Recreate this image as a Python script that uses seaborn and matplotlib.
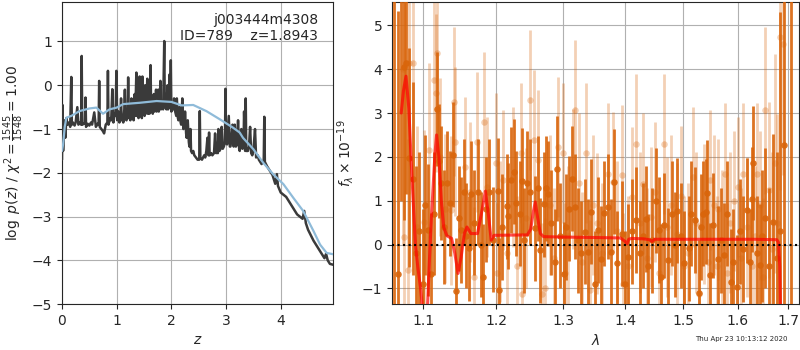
import numpy as np
import seaborn as sns
import matplotlib
matplotlib.use('Agg')
import matplotlib.pyplot as plt
from matplotlib.ticker import FixedLocator, NullLocator, FormatStrFormatter

# p(z) curve (dark) and smooth curve (blue)
z_fit = [0.00, 0.01, 0.02, 0.04, 0.06, 0.08, 0.10, 0.13, 0.15, 0.17,
         0.18, 0.20, 0.23, 0.25, 0.28, 0.30, 0.33, 0.35, 0.36, 0.37,
         0.40, 0.42, 0.43, 0.44, 0.47, 0.50, 0.53, 0.55, 0.59, 0.62,
         0.65, 0.67, 0.68, 0.69, 0.72, 0.75, 0.77, 0.80, 0.83, 0.84,
         0.85, 0.88, 0.90, 0.92, 0.94, 0.96, 0.98, 0.995, 1.01, 1.03,
         1.05, 1.07, 1.08, 1.09, 1.11, 1.12, 1.14, 1.15, 1.16, 1.18,
         1.19, 1.20, 1.21, 1.22, 1.24, 1.25, 1.27, 1.28, 1.30, 1.31,
         1.33, 1.34, 1.36, 1.37, 1.39, 1.40, 1.42, 1.43, 1.45, 1.46,
         1.47, 1.48, 1.50, 1.51, 1.52, 1.53, 1.55, 1.56, 1.57, 1.59,
         1.60, 1.62, 1.63, 1.65, 1.66, 1.68, 1.69, 1.71, 1.72, 1.73,
         1.75, 1.76, 1.77, 1.79, 1.80, 1.81, 1.83, 1.85, 1.87, 1.88,
         1.90, 1.91, 1.93, 1.94, 1.96, 1.97, 1.98, 1.99, 2.00, 2.02,
         2.04, 2.05, 2.07, 2.09, 2.10, 2.12, 2.13, 2.15, 2.17, 2.18,
         2.20, 2.22, 2.24, 2.25, 2.27, 2.28, 2.30, 2.32, 2.33, 2.35,
         2.36, 2.38, 2.40, 2.42, 2.45, 2.48, 2.51, 2.52, 2.53, 2.56,
         2.58, 2.60, 2.62, 2.64, 2.66, 2.68, 2.69, 2.70, 2.73, 2.75,
         2.78, 2.80, 2.82, 2.83, 2.85, 2.86, 2.88, 2.90, 2.92, 2.94,
         2.96, 2.98, 2.99, 3.00, 3.02, 3.05, 3.07, 3.08, 3.10, 3.12,
         3.14, 3.16, 3.18, 3.20, 3.22, 3.24, 3.25, 3.27, 3.28, 3.30,
         3.32, 3.33, 3.35, 3.36, 3.37, 3.40, 3.42, 3.44, 3.46, 3.48,
         3.50, 3.53, 3.55, 3.58, 3.60, 3.65, 3.69, 3.70, 3.71, 3.75,
         3.80, 3.85, 3.90, 3.93, 3.95, 4.00, 4.10, 4.20, 4.30, 4.40,
         4.43, 4.46, 4.50, 4.60, 4.70, 4.80, 4.83, 4.86, 4.90, 4.96]
logp_fit = [-1.70, -0.45, -1.50, -0.80, -1.20, -0.75, -0.90, -0.85, -0.95, 0.19,
            -0.90, -0.85, -0.92, -0.85, -0.50, -0.90, -0.85, -0.90, 0.67, -0.90,
            -0.88, -0.85, -0.28, -0.95, -0.88, -0.92, -0.85, -0.90, -0.62, -0.95,
            -0.88, -0.90, 0.10, -0.95, -1.00, -1.05, -1.10, -0.90, -0.85, 0.33,
            -0.90, -0.75, -0.80, -0.09, -0.85, -0.65, -0.70, 0.33, -0.80, -0.60,
            -0.85, -0.65, -0.30, -0.80, -0.70, -0.85, -0.55, -0.10, -0.75, -0.80,
            -0.60, -0.75, 0.18, -0.75, -0.60, -0.80, -0.30, -0.75, -0.65, -0.80,
            -0.20, -0.70, 0.29, -0.70, -0.55, -0.75, 0.20, -0.70, -0.20, -0.75,
            0.20, -0.65, -0.45, -0.70, 0.00, -0.65, -0.30, 0.15, -0.65, -0.50,
            -0.65, 0.46, -0.60, -0.25, -0.65, -0.20, -0.60, -0.45, -0.10, -0.60,
            -0.50, -0.10, -0.60, -0.30, 0.10, -0.55, -0.45, -0.55, 1.01, -0.50,
            -0.30, -0.55, 0.00, -0.55, -0.45, 0.25, -0.50, 0.57, -0.60, -0.50,
            -0.55, -0.30, -0.60, -0.70, -0.30, -0.75, -0.80, -0.50, -0.85, -0.90,
            -0.30, -1.00, -0.90, -0.60, -1.10, -1.20, -0.80, -1.30, -1.40, -1.00,
            -1.50, -1.55, -1.50, -1.60, -1.65, -1.70, -1.70, -0.59, -1.65, -1.70,
            -1.65, -1.60, -1.65, -1.50, -1.20, -1.60, -1.08, -1.60, -1.55, -1.60,
            -1.55, -1.10, -1.55, -1.50, -1.55, -1.00, -1.50, -1.45, -0.95, -1.45,
            -1.40, -1.30, -0.08, -1.30, -1.35, -0.70, -1.40, -1.40, -1.20, -0.90,
            -1.40, -0.90, -1.40, -1.35, -0.80, -1.45, -1.50, -1.20, -1.00, -1.45,
            -1.40, -0.60, -1.50, -0.30, -1.50, -1.50, -1.40, -0.95, -1.55, -1.60,
            -1.50, -1.00, -1.65, -1.60, -1.70, -1.80, -1.70, -0.72, -1.75, -1.85,
            -1.95, -2.05, -2.25, -2.03, -2.30, -2.45, -2.55, -2.75, -2.95, -3.05,
            -2.87, -3.15, -3.30, -3.55, -3.75, -3.95, -3.85, -4.00, -4.08, -4.10]

z_prior = [0.00, 0.02, 0.05, 0.08, 0.17, 0.32, 0.50, 0.63, 0.75, 0.87, 1.00,
           1.12, 1.42, 1.73, 2.00, 2.19, 2.40, 2.64, 2.89, 3.13, 3.25, 3.31,
           3.50, 3.68, 3.86, 4.05, 4.23, 4.41, 4.60, 4.72, 4.84, 4.96]
logp_prior = [-1.50, -1.35, -0.95, -0.74, -0.70, -0.59, -0.53, -0.51, -0.65, -0.55, -0.51,
              -0.43, -0.40, -0.36, -0.38, -0.46, -0.45, -0.59, -0.78, -0.97, -1.08, -1.20,
              -1.46, -1.77, -2.03, -2.26, -2.57, -2.87, -3.33, -3.64, -3.83, -3.86]

# spectrum, first beam (solid)
wave_a = [1.062, 1.068, 1.072, 1.0755, 1.078, 1.082, 1.087, 1.091, 1.095, 1.100,
          1.103, 1.106, 1.111, 1.114, 1.118, 1.121, 1.124, 1.128, 1.132, 1.136,
          1.140, 1.1445, 1.148, 1.151, 1.155, 1.158, 1.162, 1.165, 1.169, 1.1745,
          1.178, 1.181, 1.185, 1.190, 1.195, 1.2025, 1.2044, 1.209, 1.2157, 1.2176,
          1.2219, 1.2253, 1.2292, 1.2351, 1.2376, 1.241, 1.245, 1.2499, 1.2573, 1.2613,
          1.2648, 1.2698, 1.2734, 1.2765, 1.2815, 1.2866, 1.2903, 1.2955, 1.3005, 1.3045,
          1.3082, 1.314, 1.3187, 1.323, 1.328, 1.3333, 1.3386, 1.3438, 1.3503, 1.3547,
          1.3596, 1.365, 1.3714, 1.3758, 1.3813, 1.3867, 1.3934, 1.399, 1.4046, 1.411,
          1.4174, 1.4241, 1.4295, 1.4343, 1.4382, 1.445, 1.4526, 1.4567, 1.4613, 1.466,
          1.473, 1.4801, 1.4845, 1.4893, 1.495, 1.5013, 1.5098, 1.5144, 1.5205, 1.5278,
          1.5314, 1.5361, 1.541, 1.5434, 1.5484, 1.5545, 1.5639, 1.5683, 1.5745, 1.5807,
          1.587, 1.5919, 1.5983, 1.604, 1.611, 1.6175, 1.6239, 1.6272, 1.6304, 1.6369,
          1.6433, 1.648, 1.6531, 1.6616, 1.6684, 1.6763, 1.684, 1.6917, 1.705]
flux_a = [-2.00, -0.68, 6.00, 4.05, 4.15, 1.98, 1.50, -0.20, 0.30, -0.90,
          0.90, 0.33, -0.68, 0.70, 3.10, 1.90, 1.40, 0.40, 1.40, 0.94,
          2.05, -1.06, 0.60, 0.33, 1.20, 0.20, -0.09, 1.16, 0.50, 1.20,
          0.00, -0.74, 0.80, 1.20, 0.11, 1.22, -1.04, 0.40, 0.87, 0.65,
          1.47, 1.66, 0.94, 0.70, 1.45, 0.10, 1.40, 1.20, 0.37, 1.28,
          -0.13, 0.92, 1.28, 1.16, 0.50, -0.40, 1.73, 0.20, -0.68, 0.40,
          0.82, 1.50, 0.86, 0.10, -0.20, 0.29, -0.17, 0.75, -0.89, 0.33,
          -0.32, 0.71, 0.86, -0.17, 1.43, -0.43, 0.25, -0.89, -0.28, 0.30,
          0.56, -0.20, 0.20, 0.58, -0.50, 0.10, 1.00, 0.33, -0.74, 0.44,
          -0.36, 0.70, 0.00, 0.77, 0.20, -0.43, -0.09, 0.70, 0.56, -1.10,
          0.40, 0.70, 0.75, 1.18, -0.70, 0.44, -0.32, 0.10, -0.25, 0.70,
          -0.85, -0.40, -0.98, 0.30, -0.10, 0.78, -0.40, 1.03, 1.87, -0.20,
          -0.47, 0.20, 0.60, -0.50, 0.52, -0.30, 0.30, 2.27, -3.00]
err_a = [8.0, 6.0, 5.0, 3.5, 3.0, 2.5, 2.2, 2.0, 1.8, 1.7,
         1.6, 1.5, 1.4, 1.4, 1.3, 1.3, 1.3, 1.3, 1.2, 1.2,
         1.2, 1.2, 1.2, 1.2, 1.2, 1.2, 1.2, 1.2, 1.2, 1.2,
         1.2, 1.2, 1.2, 1.2, 1.2, 1.2, 1.2, 1.2, 1.2, 1.2,
         1.2, 1.2, 1.2, 1.2, 1.2, 1.2, 1.2, 1.2, 1.2, 1.2,
         1.2, 1.2, 1.2, 1.2, 1.2, 1.2, 1.2, 1.2, 1.2, 1.2,
         1.2, 1.2, 1.2, 1.2, 1.2, 1.2, 1.2, 1.2, 1.2, 1.2,
         1.2, 1.2, 1.2, 1.2, 1.2, 1.2, 1.2, 1.2, 1.2, 1.2,
         1.2, 1.2, 1.2, 1.2, 1.2, 1.2, 1.2, 1.2, 1.2, 1.2,
         1.2, 1.2, 1.2, 1.2, 1.2, 1.2, 1.2, 1.2, 1.2, 1.2,
         1.2, 1.2, 1.2, 1.2, 1.2, 1.2, 1.2, 1.2, 1.2, 1.2,
         1.2, 1.2, 1.2, 1.2, 1.2, 1.2, 1.2, 1.2, 1.3, 1.3,
         1.4, 1.5, 1.6, 1.8, 2.0, 2.4, 5.0, 5.0, 10.0]

# spectrum, second beam (faint)
wave_b = [1.0736, 1.0753, 1.0800, 1.0813, 1.0873, 1.0925, 1.1008, 1.1073, 1.1139, 1.1175,
          1.1184, 1.1229, 1.1296, 1.1377, 1.1418, 1.1425, 1.1568, 1.1627, 1.1691, 1.1729,
          1.1831, 1.1869, 1.2001, 1.2013, 1.2050, 1.2106, 1.2150, 1.2242, 1.2309, 1.2364,
          1.2380, 1.2440, 1.2488, 1.2547, 1.2618, 1.2678, 1.2725, 1.2790, 1.2850, 1.2918,
          1.2988, 1.3030, 1.3080, 1.3150, 1.3187, 1.3239, 1.3290, 1.3356, 1.3424, 1.3470,
          1.3532, 1.3620, 1.3710, 1.3792, 1.3860, 1.3940, 1.3966, 1.4040, 1.4106, 1.4179,
          1.4240, 1.4303, 1.4370, 1.4430, 1.4500, 1.4562, 1.4650, 1.4710, 1.4780, 1.4888,
          1.4950, 1.5006, 1.5090, 1.5177, 1.5220, 1.5279, 1.5371, 1.5450, 1.5484, 1.5560,
          1.5610, 1.5640, 1.5700, 1.5764, 1.5796, 1.5860, 1.5940, 1.6015, 1.6060, 1.6111,
          1.6190, 1.6272, 1.6330, 1.6380, 1.6440, 1.6498, 1.6531, 1.6616, 1.6680, 1.6730,
          1.6763, 1.6829, 1.6883]
flux_b = [4.00, 0.17, -0.59, 4.15, 4.15, 0.40, 0.52, 2.15, 3.75, 3.46,
          4.36, 2.00, 0.82, 0.78, 3.26, 2.34, 1.77, 1.20, -0.74, 2.34,
          2.80, 1.32, 1.85, -0.66, 0.30, 1.47, -0.20, 1.54, -0.50, 2.08,
          -1.12, 0.60, 3.30, 2.38, 1.92, -1.12, -1.00, 0.90, -0.30, 2.23,
          2.08, -0.66, 0.20, 1.50, 3.06, 1.41, -0.40, 2.08, -1.04, 0.90,
          0.48, -0.20, 1.62, 1.43, 0.30, 1.58, -0.89, -0.50, 1.09, 2.29,
          0.50, 1.39, -0.30, 0.63, 1.20, -0.66, 2.29, 0.40, 0.90, 0.25,
          1.10, -0.50, -0.20, 1.54, 0.50, -1.12, 0.70, -0.40, 1.47, 0.90,
          -0.50, 0.80, 0.10, 1.62, -0.66, 0.50, 1.00, 1.32, -0.30, 1.62,
          0.40, -0.50, 0.20, 1.62, 0.90, -0.74, 3.06, 1.24, -0.10, 1.85,
          0.48, 4.74, 4.58]
err_b = [4.0, 3.5, 3.0, 3.0, 2.6, 2.3, 2.1, 2.0, 1.9, 1.8,
         1.8, 1.8, 1.7, 1.7, 1.7, 1.7, 1.6, 1.6, 1.6, 1.6,
         1.6, 1.6, 1.6, 1.6, 1.6, 1.6, 1.6, 1.6, 1.6, 1.6,
         1.6, 1.6, 1.6, 1.6, 1.6, 1.6, 1.6, 1.6, 1.6, 1.6,
         1.6, 1.6, 1.6, 1.6, 1.6, 1.6, 1.6, 1.6, 1.6, 1.6,
         1.6, 1.6, 1.6, 1.6, 1.6, 1.6, 1.6, 1.6, 1.6, 1.6,
         1.6, 1.6, 1.6, 1.6, 1.6, 1.6, 1.6, 1.6, 1.6, 1.6,
         1.6, 1.6, 1.6, 1.6, 1.6, 1.6, 1.6, 1.6, 1.6, 1.6,
         1.6, 1.6, 1.6, 1.6, 1.6, 1.6, 1.6, 1.6, 1.6, 1.6,
         1.6, 1.6, 1.6, 1.6, 1.7, 1.8, 1.9, 2.0, 2.2, 2.5,
         2.5, 3.5, 3.0]

# best-fit model
wave_model = [1.0717, 1.0745, 1.0778, 1.0815, 1.0845, 1.0875, 1.0900, 1.0930, 1.0970, 1.1000,
              1.1030, 1.1056, 1.1085, 1.1110, 1.1135, 1.1157, 1.1178, 1.1209, 1.1242, 1.1273,
              1.1316, 1.1380, 1.1424, 1.1468, 1.1511, 1.1555, 1.1590, 1.1645, 1.1737, 1.1791,
              1.1848, 1.1894, 1.1930, 1.1971, 1.2456, 1.2505, 1.2545, 1.2573, 1.2610, 1.2650,
              1.2698, 1.3000, 1.3500, 1.3915, 1.3985, 1.4025, 1.4055, 1.4100, 1.4300, 1.4405,
              1.4450, 1.4495, 1.4700, 1.5500, 1.6300, 1.6765, 1.6800, 1.6825, 1.6840, 1.6855]
flux_model = [3.00, 3.50, 3.84, 3.10, 1.90, 0.86, 0.00, -0.50, -1.04, -1.60,
              -2.00, -1.50, -0.30, 0.63, 1.40, 2.08, 2.50, 2.00, 1.00, 0.40,
              0.20, 0.14, -0.20, -0.66, -0.28, 0.25, 0.40, 0.25, 0.25, 0.70,
              1.22, 0.63, 0.10, 0.21, 0.22, 0.35, 0.75, 0.97, 0.60, 0.25,
              0.18, 0.17, 0.16, 0.15, 0.08, 0.02, 0.12, 0.14, 0.13, 0.11,
              0.07, 0.12, 0.12, 0.12, 0.12, 0.11, 0.05, -0.50, -1.50, -2.00]

wave_ticks = [1.1, 1.2, 1.3, 1.4, 1.5, 1.6, 1.7]
orange = '#d9650b'

sns.set_style('ticks')
plt.rcParams['font.family'] = ['DejaVu Sans']

fig = plt.figure(figsize=(8, 3.5), dpi=100)
ax1 = fig.add_axes([0.0775, 0.131, 0.339, 0.863])
ax2 = fig.add_axes([0.49, 0.131, 0.509, 0.863])

# left: redshift fit
sns.lineplot(x=z_fit, y=logp_fit, ax=ax1, color='#3a3a3a', lw=1.8,
             sort=False, estimator=None, zorder=3)
sns.lineplot(x=z_prior, y=logp_prior, ax=ax1, color='#8fbbd9', lw=1.6,
             sort=False, estimator=None, zorder=4)
ax1.set_xlim(0, 4.96)
ax1.set_ylim(-5, 1.9)
ax1.set_yticks([-5, -4, -3, -2, -1, 0, 1])
ax1.set_xticks([0, 1, 2, 3, 4])
ax1.grid(True, color='#b0b0b0', lw=0.8)
ax1.set_xlabel('$z$')
ax1.set_ylabel(r'$\log\ p(z)$ / $\chi^2=\frac{1545}{1548}=1.00$')
ax1.text(0.945, 0.965, 'j003444m4308\nID=789    z=1.8943', ha='right', va='top',
         transform=ax1.transAxes, fontsize=10)

# right: spectrum
wa, fa, ea = np.array(wave_a), np.array(flux_a), np.array(err_a)
wb, fb, eb = np.array(wave_b), np.array(flux_b), np.array(err_b)
ax2.vlines(wb, fb - eb, fb + eb, color=orange, lw=2, alpha=0.3, zorder=2)
sns.scatterplot(x=wb, y=fb, ax=ax2, color=orange, s=22, linewidth=0, alpha=0.3, zorder=2)
ax2.vlines(wa, fa - ea, fa + ea, color=orange, lw=2, alpha=0.9, zorder=3)
sns.scatterplot(x=wa, y=fa, ax=ax2, color=orange, s=22, linewidth=0, alpha=0.9, zorder=3)
sns.lineplot(x=wave_model, y=flux_model, ax=ax2, color='red', lw=2.2, alpha=0.7,
             sort=False, estimator=None, zorder=5)
ax2.axhline(0, color='k', ls=':', lw=1.5, zorder=6)

ax2.set_xscale('log')
ax2.set_xlim(1.060, 1.722)
ax2.set_ylim(-1.36, 5.53)
ax2.xaxis.set_major_locator(FixedLocator(wave_ticks))
ax2.xaxis.set_major_formatter(FormatStrFormatter('%.1f'))
ax2.xaxis.set_minor_locator(NullLocator())
ax2.set_yticks([-1, 0, 1, 2, 3, 4, 5])
ax2.grid(True, color='#b0b0b0', lw=0.8)
ax2.set_xlabel(r'$\lambda$')
ax2.set_ylabel(r'$f_\lambda\times10^{-19}$')

fig.text(0.984, 0.022, 'Thu Apr 23 10:13:12 2020', ha='right', va='bottom', fontsize=5)

fig.savefig('out.png', dpi=100)
